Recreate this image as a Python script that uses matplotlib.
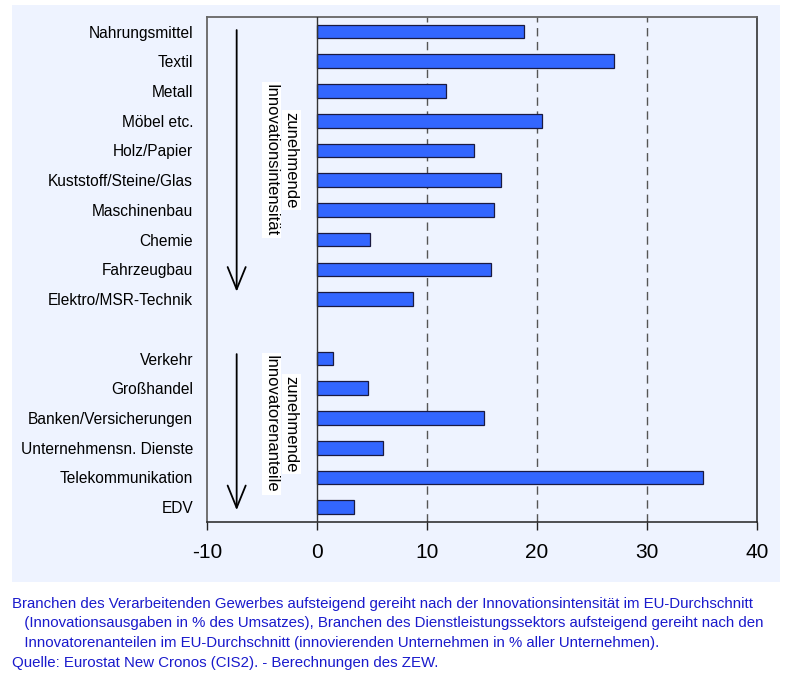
import numpy as np
import matplotlib
matplotlib.use("Agg")
import matplotlib.pyplot as plt
from matplotlib.patches import Rectangle

# Daten (Innovationsintensität / Innovatorenanteile, EU-Durchschnitt)
branchen_industrie = ["Nahrungsmittel", "Textil", "Metall", "Möbel etc.", "Holz/Papier",
                      "Kuststoff/Steine/Glas", "Maschinenbau", "Chemie", "Fahrzeugbau",
                      "Elektro/MSR-Technik"]
werte_industrie = [18.8, 27.0, 11.7, 20.5, 14.3, 16.7, 16.1, 4.8, 15.8, 8.7]

branchen_dienst = ["Verkehr", "Großhandel", "Banken/Versicherungen",
                   "Unternehmensn. Dienste", "Telekommunikation", "EDV"]
werte_dienst = [1.5, 4.6, 15.2, 6.0, 35.1, 3.4]

x_ticks = [-10, 0, 10, 20, 30, 40]

caption = ("Branchen des Verarbeitenden Gewerbes aufsteigend gereiht nach der Innovationsintensität im EU-Durchschnitt\n"
           "   (Innovationsausgaben in % des Umsatzes), Branchen des Dienstleistungssektors aufsteigend gereiht nach den\n"
           "   Innovatorenanteilen im EU-Durchschnitt (innovierenden Unternehmen in % aller Unternehmen).\n"
           "Quelle: Eurostat New Cronos (CIS2). - Berechnungen des ZEW.")

plt.rcParams["font.family"] = ["Liberation Sans", "DejaVu Sans"]

panel_col = "#eef3ff"
bar_col = "#3366ff"

fig = plt.figure(figsize=(7.96, 6.78), dpi=100)
fig.patch.set_facecolor("white")
fig.patches.append(Rectangle((0.015, 0.1416), 0.965, 0.851, transform=fig.transFigure,
                             facecolor=panel_col, edgecolor="none", zorder=-5))

ax = fig.add_axes([0.260, 0.230, 0.691, 0.7454])
ax.set_zorder(2)
ax.set_facecolor(panel_col)

# Positionen: 10 Industrie, eine Lücke, 6 Dienstleistungen (von oben nach unten)
labels = branchen_industrie + [""] + branchen_dienst
pos_ind = np.arange(len(branchen_industrie))
pos_dl = np.arange(len(branchen_dienst)) + len(branchen_industrie) + 1
all_pos = np.arange(len(labels))

ax.barh(pos_ind, werte_industrie, height=0.46, color=bar_col, edgecolor="#1a1a40",
        linewidth=0.9, zorder=3)
ax.barh(pos_dl, werte_dienst, height=0.46, color=bar_col, edgecolor="#1a1a40",
        linewidth=0.9, zorder=3)

ax.set_xlim(-10, 40)
ax.set_ylim(len(labels) - 0.5, -0.5)

# Gitterlinien
for xv in [10, 20, 30]:
    ax.axvline(xv, color="#555555", linewidth=1.0, linestyle=(0, (6, 4)), zorder=1)
ax.axvline(0, color="#333333", linewidth=1.0, zorder=4)

ax.set_xticks(x_ticks)
ax.set_xticklabels([str(t) for t in x_ticks], fontsize=15)
ax.tick_params(axis="x", direction="out", length=6, width=1, pad=9, color="#222222")
ax.set_yticks(all_pos)
ax.set_yticklabels(labels, fontsize=11.2)
ax.tick_params(axis="y", length=0, pad=10)

for s in ["top", "left"]:
    ax.spines[s].set_color("#666666")
    ax.spines[s].set_linewidth(1.3)
for s in ["right", "bottom"]:
    ax.spines[s].set_color("#222222")
    ax.spines[s].set_linewidth(1.1)

# Pfeile
arrow_x = -7.3
for y0, y1 in [(-0.05, 8.75), (10.85, 16.1)]:
    ax.annotate("", xy=(arrow_x, y1), xytext=(arrow_x, y0),
                arrowprops=dict(arrowstyle="->,head_length=1.6,head_width=0.65",
                                color="black", linewidth=1.3, shrinkA=0, shrinkB=0))

# senkrechte Beschriftungen, jede Zeile mit eigenem weißen Hintergrund
box = dict(facecolor="white", edgecolor="none", pad=1.5)
for x, y, txt in [(-2.35, 4.32, "zunehmende"), (-4.15, 4.32, "Innovationsintensität"),
                  (-2.35, 13.2, "zunehmende"), (-4.15, 13.2, "Innovatorenanteile")]:
    ax.text(x, y, txt, rotation=270, fontsize=12, ha="center", va="center",
            bbox=box, zorder=5)

fig.text(0.015, 1 - 597 / 678, caption, fontsize=10.8, color="#1a1acc",
         ha="left", va="top", linespacing=1.5)

fig.savefig("out.png", dpi=100, facecolor=fig.get_facecolor())
